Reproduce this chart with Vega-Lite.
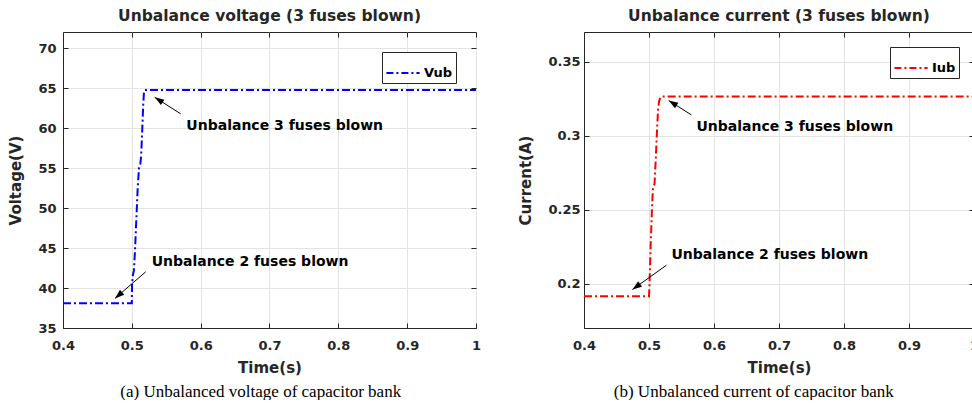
{
  "$schema": "https://vega.github.io/schema/vega-lite/v6.json",
  "padding": {"left": 8, "top": 8, "right": 0, "bottom": 0},
  "background": "white",
  "config": {
    "font": "DejaVu Sans",
    "view": {"stroke": "#262626", "strokeWidth": 1},
    "axis": {
      "labelFont": "DejaVu Sans", "labelFontSize": 13, "labelFontWeight": "bold", "labelColor": "#262626",
      "titleFont": "DejaVu Sans", "titleFontSize": 15, "titleFontWeight": "bold", "titleColor": "#262626",
      "domainColor": "#262626", "tickColor": "#262626", "tickSize": -5, "gridColor": "#e3e3e3", "gridOpacity": 1,
      "labelFlush": false, "labelOverlap": false
    },
    "axisX": {"labelPadding": 16, "titlePadding": 8},
    "axisY": {"labelPadding": 12, "titlePadding": 14},
    "title": {"font": "DejaVu Sans", "fontSize": 15.5, "fontWeight": "bold", "color": "#262626", "offset": 7},
    "legend": {
      "orient": "top-right", "title": null, "symbolType": "stroke", "symbolStrokeWidth": 2,
      "symbolDash": [7, 3, 2, 3], "symbolSize": 1100, "labelFont": "DejaVu Sans", "labelFontSize": 13,
      "labelFontWeight": "bold", "labelColor": "#000000", "strokeColor": "#262626", "fillColor": "white",
      "padding": 3, "labelOffset": 3
    }
  },
  "resolve": {"scale": {"color": "independent"}, "legend": {"color": "independent"}},
  "datasets": {
    "voltage": [
      {"x": 0.4, "y": 38.1, "series": "Vub"},
      {"x": 0.5, "y": 38.1, "series": "Vub"},
      {"x": 0.5003, "y": 40.5, "series": "Vub"},
      {"x": 0.5015, "y": 41.6, "series": "Vub"},
      {"x": 0.503, "y": 42.2, "series": "Vub"},
      {"x": 0.5045, "y": 44.5, "series": "Vub"},
      {"x": 0.5065, "y": 48.5, "series": "Vub"},
      {"x": 0.5085, "y": 52.5, "series": "Vub"},
      {"x": 0.5104, "y": 55.0, "series": "Vub"},
      {"x": 0.5125, "y": 55.6, "series": "Vub"},
      {"x": 0.5135, "y": 56.5, "series": "Vub"},
      {"x": 0.515, "y": 59.5, "series": "Vub"},
      {"x": 0.5165, "y": 62.8, "series": "Vub"},
      {"x": 0.5177, "y": 64.6, "series": "Vub"},
      {"x": 0.519, "y": 64.75, "series": "Vub"},
      {"x": 1.0, "y": 64.75, "series": "Vub"}
    ],
    "current": [
      {"x": 0.4, "y": 0.1915, "series": "Iub"},
      {"x": 0.5, "y": 0.1915, "series": "Iub"},
      {"x": 0.5008, "y": 0.2, "series": "Iub"},
      {"x": 0.5025, "y": 0.225, "series": "Iub"},
      {"x": 0.5045, "y": 0.25, "series": "Iub"},
      {"x": 0.506, "y": 0.264, "series": "Iub"},
      {"x": 0.5085, "y": 0.2675, "series": "Iub"},
      {"x": 0.5105, "y": 0.285, "series": "Iub"},
      {"x": 0.5125, "y": 0.305, "series": "Iub"},
      {"x": 0.514, "y": 0.318, "series": "Iub"},
      {"x": 0.5155, "y": 0.323, "series": "Iub"},
      {"x": 0.5175, "y": 0.3258, "series": "Iub"},
      {"x": 0.52, "y": 0.3265, "series": "Iub"},
      {"x": 1.0, "y": 0.3265, "series": "Iub"}
    ],
    "annotV": [
      {"id": "three", "label": "Unbalance 3 fuses blown", "tx": 0.5792, "ty": 60.31, "ax": 0.571, "ay": 61.77, "hx": 0.5332, "hy": 63.84},
      {"id": "two", "label": "Unbalance 2 fuses blown", "tx": 0.5289, "ty": 43.27, "ax": 0.5201, "ay": 42.02, "hx": 0.4755, "hy": 38.7}
    ],
    "annotC": [
      {"id": "three", "label": "Unbalance 3 fuses blown", "tx": 0.5729, "ty": 0.3061, "ax": 0.5652, "ay": 0.314, "hx": 0.5303, "hy": 0.3237},
      {"id": "two", "label": "Unbalance 2 fuses blown", "tx": 0.5345, "ty": 0.2191, "ax": 0.5268, "ay": 0.2124, "hx": 0.4745, "hy": 0.196}
    ]
  },
  "spacing": 36,
  "hconcat": [
    {
      "title": {"text": "(a) Unbalanced voltage of capacitor bank", "orient": "bottom", "font": "Liberation Serif", "fontSize": 17, "fontWeight": "normal", "color": "#000000", "anchor": "middle", "dx": 16, "offset": 8},
      "resolve": {"scale": {"color": "independent"}, "legend": {"color": "independent"}},
      "vconcat": [
        {
          "width": 413, "height": 296,
          "title": {"text": "Unbalance voltage (3 fuses blown)"},
          "resolve": {"axis": {"x": "independent", "y": "independent"}},
          "layer": [
            {
              "data": {"name": "voltage"},
              "mark": {"type": "line", "strokeWidth": 2, "strokeDash": [8, 3, 2, 3], "clip": true},
              "encoding": {
                "x": {"field": "x", "type": "quantitative", "scale": {"domain": [0.4, 1], "nice": false, "zero": false},
                      "axis": {"title": "Time(s)", "values": [0.4, 0.5, 0.6, 0.7, 0.8, 0.9, 1], "format": "~g"}},
                "y": {"field": "y", "type": "quantitative", "scale": {"domain": [35, 72], "nice": false, "zero": false},
                      "axis": {"title": "Voltage(V)", "values": [35, 40, 45, 50, 55, 60, 65, 70], "format": "~g"}},
                "color": {"field": "series", "type": "nominal", "scale": {"domain": ["Vub"], "range": ["#0000ff"]},
                          "legend": {"orient": "top-right", "offset": 20}}
              }
            },
            {
              "data": {"name": "annotV"},
              "mark": {"type": "rule", "color": "#000000", "strokeWidth": 1},
              "encoding": {
                "x": {"field": "ax", "type": "quantitative", "scale": {"domain": [0.4, 1], "nice": false, "zero": false},
                      "axis": {"orient": "top", "labels": false, "title": null, "grid": false, "domain": false, "values": [0.4, 0.5, 0.6, 0.7, 0.8, 0.9, 1]}},
                "y": {"field": "ay", "type": "quantitative", "scale": {"domain": [35, 72], "nice": false, "zero": false},
                      "axis": {"orient": "right", "labels": false, "title": null, "grid": false, "domain": false, "values": [35, 40, 45, 50, 55, 60, 65, 70]}},
                "x2": {"field": "hx"},
                "y2": {"field": "hy"}
              }
            },
            {
              "data": {"name": "annotV"},
              "mark": {"type": "text", "align": "left", "baseline": "middle", "font": "DejaVu Sans", "fontSize": 14, "fontWeight": "bold", "color": "#000000"},
              "encoding": {
                "x": {"field": "tx", "type": "quantitative", "scale": {"domain": [0.4, 1], "nice": false, "zero": false}, "axis": null},
                "y": {"field": "ty", "type": "quantitative", "scale": {"domain": [35, 72], "nice": false, "zero": false}, "axis": null},
                "text": {"field": "label"}
              }
            },
            {
              "data": {"name": "annotV"},
              "transform": [{"filter": "datum.id == 'three'"}],
              "mark": {"type": "point", "shape": "M0,0L-0.55,1.6L0.55,1.6Z", "filled": true, "size": 140, "angle": 302.6, "color": "#000000", "opacity": 1},
              "encoding": {
                "x": {"field": "hx", "type": "quantitative", "scale": {"domain": [0.4, 1], "nice": false, "zero": false}, "axis": null},
                "y": {"field": "hy", "type": "quantitative", "scale": {"domain": [35, 72], "nice": false, "zero": false}, "axis": null}
              }
            },
            {
              "data": {"name": "annotV"},
              "transform": [{"filter": "datum.id == 'two'"}],
              "mark": {"type": "point", "shape": "M0,0L-0.55,1.6L0.55,1.6Z", "filled": true, "size": 140, "angle": 229.1, "color": "#000000", "opacity": 1},
              "encoding": {
                "x": {"field": "hx", "type": "quantitative", "scale": {"domain": [0.4, 1], "nice": false, "zero": false}, "axis": null},
                "y": {"field": "hy", "type": "quantitative", "scale": {"domain": [35, 72], "nice": false, "zero": false}, "axis": null}
              }
            }
          ]
        }
      ]
    },
    {
      "title": {"text": "(b) Unbalanced current of capacitor bank", "orient": "bottom", "font": "Liberation Serif", "fontSize": 17, "fontWeight": "normal", "color": "#000000", "anchor": "middle", "dx": 5, "offset": 8},
      "resolve": {"scale": {"color": "independent"}, "legend": {"color": "independent"}},
      "vconcat": [
        {
          "width": 390, "height": 296,
          "title": {"text": "Unbalance current (3 fuses blown)"},
          "resolve": {"axis": {"x": "independent", "y": "independent"}},
          "layer": [
            {
              "data": {"name": "current"},
              "mark": {"type": "line", "strokeWidth": 2, "strokeDash": [8, 3, 2, 3], "clip": true},
              "encoding": {
                "x": {"field": "x", "type": "quantitative", "scale": {"domain": [0.4, 1], "nice": false, "zero": false},
                      "axis": {"title": "Time(s)", "values": [0.4, 0.5, 0.6, 0.7, 0.8, 0.9, 1], "format": "~g"}},
                "y": {"field": "y", "type": "quantitative", "scale": {"domain": [0.17, 0.37], "nice": false, "zero": false},
                      "axis": {"title": "Current(A)", "values": [0.2, 0.25, 0.3, 0.35], "format": "~g", "labelPadding": 9}},
                "color": {"field": "series", "type": "nominal", "scale": {"domain": ["Iub"], "range": ["#ff0000"]},
                          "legend": {"orient": "top-right", "offset": 15}}
              }
            },
            {
              "data": {"name": "annotC"},
              "mark": {"type": "rule", "color": "#000000", "strokeWidth": 1},
              "encoding": {
                "x": {"field": "ax", "type": "quantitative", "scale": {"domain": [0.4, 1], "nice": false, "zero": false},
                      "axis": {"orient": "top", "labels": false, "title": null, "grid": false, "domain": false, "values": [0.4, 0.5, 0.6, 0.7, 0.8, 0.9, 1]}},
                "y": {"field": "ay", "type": "quantitative", "scale": {"domain": [0.17, 0.37], "nice": false, "zero": false},
                      "axis": {"orient": "right", "labels": false, "title": null, "grid": false, "domain": false, "values": [0.2, 0.25, 0.3, 0.35]}},
                "x2": {"field": "hx"},
                "y2": {"field": "hy"}
              }
            },
            {
              "data": {"name": "annotC"},
              "mark": {"type": "text", "align": "left", "baseline": "middle", "font": "DejaVu Sans", "fontSize": 14, "fontWeight": "bold", "color": "#000000"},
              "encoding": {
                "x": {"field": "tx", "type": "quantitative", "scale": {"domain": [0.4, 1], "nice": false, "zero": false}, "axis": null},
                "y": {"field": "ty", "type": "quantitative", "scale": {"domain": [0.17, 0.37], "nice": false, "zero": false}, "axis": null},
                "text": {"field": "label"}
              }
            },
            {
              "data": {"name": "annotC"},
              "transform": [{"filter": "datum.id == 'three'"}],
              "mark": {"type": "point", "shape": "M0,0L-0.55,1.6L0.55,1.6Z", "filled": true, "size": 140, "angle": 302.2, "color": "#000000", "opacity": 1},
              "encoding": {
                "x": {"field": "hx", "type": "quantitative", "scale": {"domain": [0.4, 1], "nice": false, "zero": false}, "axis": null},
                "y": {"field": "hy", "type": "quantitative", "scale": {"domain": [0.17, 0.37], "nice": false, "zero": false}, "axis": null}
              }
            },
            {
              "data": {"name": "annotC"},
              "transform": [{"filter": "datum.id == 'two'"}],
              "mark": {"type": "point", "shape": "M0,0L-0.55,1.6L0.55,1.6Z", "filled": true, "size": 140, "angle": 234.4, "color": "#000000", "opacity": 1},
              "encoding": {
                "x": {"field": "hx", "type": "quantitative", "scale": {"domain": [0.4, 1], "nice": false, "zero": false}, "axis": null},
                "y": {"field": "hy", "type": "quantitative", "scale": {"domain": [0.17, 0.37], "nice": false, "zero": false}, "axis": null}
              }
            }
          ]
        }
      ]
    }
  ]
}
